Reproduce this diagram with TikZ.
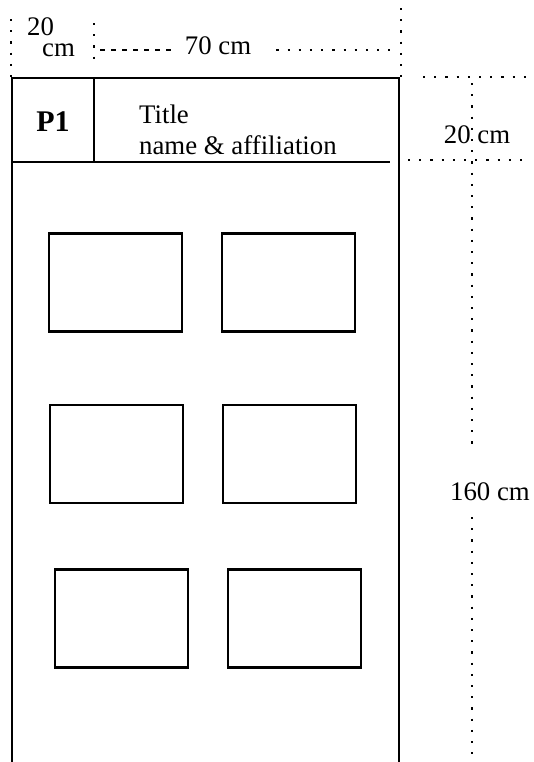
\documentclass[tikz,border=0pt]{standalone}
\usepackage{fontspec}
\setmainfont{Liberation Serif}
\usetikzlibrary{positioning}

\begin{document}
\begin{tikzpicture}[x=0.5pt,y=-0.5pt,line width=1.2pt,
  fig/.style={draw,minimum width=66.5pt,minimum height=49pt,inner sep=0pt},
  dim/.style={line width=1.1pt,dash pattern=on 1.1pt off 4.5pt},
  lbl/.style={font=\fontsize{13.4}{15.5}\selectfont,inner sep=0pt}]
\useasboundingbox (0,0) rectangle (534,762);
% poster frame and header
\coordinate (tl) at (12,78);   \coordinate (tr) at (399,78);
\coordinate (bl) at (12,762);  \coordinate (br) at (399,762);
\coordinate (hl) at (12,162);  \coordinate (hr) at (390,162);
\coordinate (vt) at (94,78);   \coordinate (vb) at (94,162);
\draw (bl) -- (tl) -- (tr) -- (br);
\draw (hl) -- (hr);
\draw (vt) -- (vb);
\node[lbl,font=\fontsize{15}{17}\selectfont\bfseries] (P) at (53,122) {P1};
\node[lbl,align=left,anchor=west] (T) at (138,130) {Title\\name \& affiliation};
% figures
\node[fig] (f1) at (115.5,282.5) {};
\node[fig] (f2) [right=18.8pt of f1] {};
\node[fig] (f3) [below=35.5pt of f1,xshift=0.5pt] {};
\node[fig] (f4) [right=18.8pt of f3] {};
\node[fig] (f5) [below=32pt of f3,xshift=2.5pt] {};
\node[fig] (f6) [right=18.8pt of f5] {};
% width
\coordinate (a1) at (11,19);   \coordinate (a2) at (11,77);
\coordinate (b1) at (94,23);   \coordinate (b2) at (94,67);
\coordinate (c1) at (401,8);   \coordinate (c2) at (401,77);
\draw[dim] (a1) -- (a2);
\draw[dim] (b1) -- (b2);
\draw[dim] (c1) -- (c2);
\node[lbl,align=left] (w1) at (51,37) {20\\[-5pt]\hspace*{7.5pt}cm};
\node[lbl] (w2) at (218,46) {70 cm};
\coordinate (d1) at (100,50);  \coordinate (d2) at (390,50);
\draw[line width=1.1pt,dash pattern=on 2.5pt off 3pt] (d1) -- ([xshift=-6pt]w2.west |- d1);
\draw[dim] ([xshift=12pt]w2.east |- d1) -- (d2);
% height
\coordinate (e1) at (423,77);  \coordinate (e2) at (534,77);
\coordinate (g1) at (408,160); \coordinate (g2) at (522,160);
\coordinate (h1) at (472,83);  \coordinate (h2) at (472,450);
\coordinate (k1) at (472,517); \coordinate (k2) at (472,762);
\draw[dim] (e1) -- (e2);
\draw[dim] (g1) -- (g2);
\draw[dim] (h1) -- (h2);
\draw[dim] (k1) -- (k2);
\node[lbl] (h20) at (477,135) {20 cm};
\node[lbl] (h160) at (490,492) {160 cm};
\end{tikzpicture}
\end{document}
